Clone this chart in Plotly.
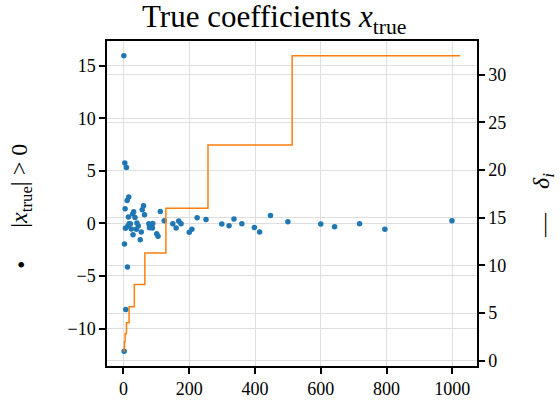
import plotly.graph_objects as go

# nonzero true coefficients: index and value
coef_idx = [1, 2, 3, 4, 5, 6, 7, 9, 11, 12, 13, 15, 16, 17, 21, 24, 28, 29, 31, 35,
            39, 41, 45, 51, 54, 57, 61, 64, 77, 79, 82, 88, 89, 101, 105, 112, 124,
            150, 160, 168, 175, 200, 208, 224, 251, 299, 321, 336, 360, 398, 414,
            447, 500, 600, 642, 718, 795, 999]
coef_val = [15.93, -12.15, -1.96, 5.73, 1.40, -0.47, -8.20, 5.32, 2.18, -4.14, -0.28,
            0.61, 2.50, -0.03, -0.03, -0.53, 0.89, -1.07, 1.11, 0.57, -0.57, 0.04,
            -0.25, -1.55, -0.82, 1.30, 1.68, 0.83, -0.03, -0.41, -0.22, -0.44, 0.00,
            -0.98, -1.23, 1.14, 0.26, -0.03, -0.44, 0.22, -0.03, -0.85, -0.57, 0.54,
            0.38, -0.06, -0.22, 0.42, -0.03, -0.38, -0.82, 0.76, 0.16, -0.06, -0.31,
            -0.03, -0.57, 0.26]

# delta_i step levels (start index of each level)
delta_idx = [1, 2, 3, 5, 9, 17, 33, 65, 129, 257, 513, 1024]
delta_val = [1, 1.414, 2, 2.828, 4, 5.657, 8, 11.314, 16, 22.627, 32, 32]

xticks = [0, 200, 400, 600, 800, 1000]
yticks_left = [-10, -5, 0, 5, 10, 15]
yticks_right = [0, 5, 10, 15, 20, 25, 30]

label_family = "Liberation Serif"
grid_c = "#dedede"

fig = go.Figure()
fig.add_trace(go.Scatter(
    x=delta_idx, y=delta_val, mode="lines", line=dict(color="#ff7f0e", width=1.5, shape="hv"),
    yaxis="y2", showlegend=False, hoverinfo="skip"))
fig.add_trace(go.Scatter(
    x=coef_idx, y=coef_val, mode="markers",
    marker=dict(color="#1f77b4", size=5.5, line=dict(width=0)),
    showlegend=False))

axis_common = dict(ticks="outside", ticklen=6, tickwidth=1.5, tickcolor="black",
                   showline=True, linecolor="black", linewidth=1.5, showgrid=True,
                   gridcolor=grid_c, gridwidth=1.2, zeroline=False, automargin=False)

fig.update_layout(
    width=560, height=406,
    margin=dict(l=107, r=83, t=41, b=40),
    paper_bgcolor="white", plot_bgcolor="white",
    font=dict(family="Liberation Serif", size=18, color="black"),
    xaxis=dict(range=[-50.15, 1075.15], tickvals=xticks, mirror=True, **axis_common),
    yaxis=dict(range=[-13.56, 17.34], tickvals=yticks_left, **axis_common),
    yaxis2=dict(range=[-0.55, 33.55], tickvals=yticks_right, overlaying="y",
                side="right", **axis_common),
)
fig.update_xaxes(tickfont_family="Liberation Serif", tickfont_size=18, tickfont_color="black")
fig.update_yaxes(tickfont_family="Liberation Serif", tickfont_size=18, tickfont_color="black")
fig.layout.yaxis2.tickfont = dict(family="Liberation Serif", size=18, color="black")

lab_font = dict(family=label_family, size=24, color="black")
# title
fig.add_annotation(text="True coefficients <i>x</i><sub>true</sub>", x=274, y=406 - 19,
                   xref="paper", yref="paper", showarrow=False,
                   font=dict(family=label_family, size=31, color="black"),
                   xanchor="center", yanchor="middle")
# left axis label: marker symbol + text
fig.add_annotation(text="•", x=20.7, y=406 - 265, xref="paper", yref="paper",
                   showarrow=False, font=lab_font, xanchor="center", yanchor="middle")
fig.add_annotation(text="|<i>x</i><sub>true</sub>| > 0", textangle=-90, x=20.7, y=406 - 186,
                   xref="paper", yref="paper", showarrow=False, font=lab_font,
                   xanchor="center", yanchor="middle")
# right axis label: line symbol + text
fig.add_annotation(text="—", textangle=-90, x=543, y=406 - 225, xref="paper", yref="paper",
                   showarrow=False, font=lab_font, xanchor="center", yanchor="middle")
fig.add_annotation(text="<i>δ</i><sub><i>i</i></sub>", textangle=-90, x=543, y=406 - 181,
                   xref="paper", yref="paper", showarrow=False, font=lab_font,
                   xanchor="center", yanchor="middle")

# convert pixel positions of annotations to paper coordinates
pw, ph = 560 - 107 - 83, 406 - 41 - 40
for a in fig.layout.annotations:
    a.x = (a.x - 107) / pw
    a.y = (a.y - 40) / ph

fig.write_html("out.html")
